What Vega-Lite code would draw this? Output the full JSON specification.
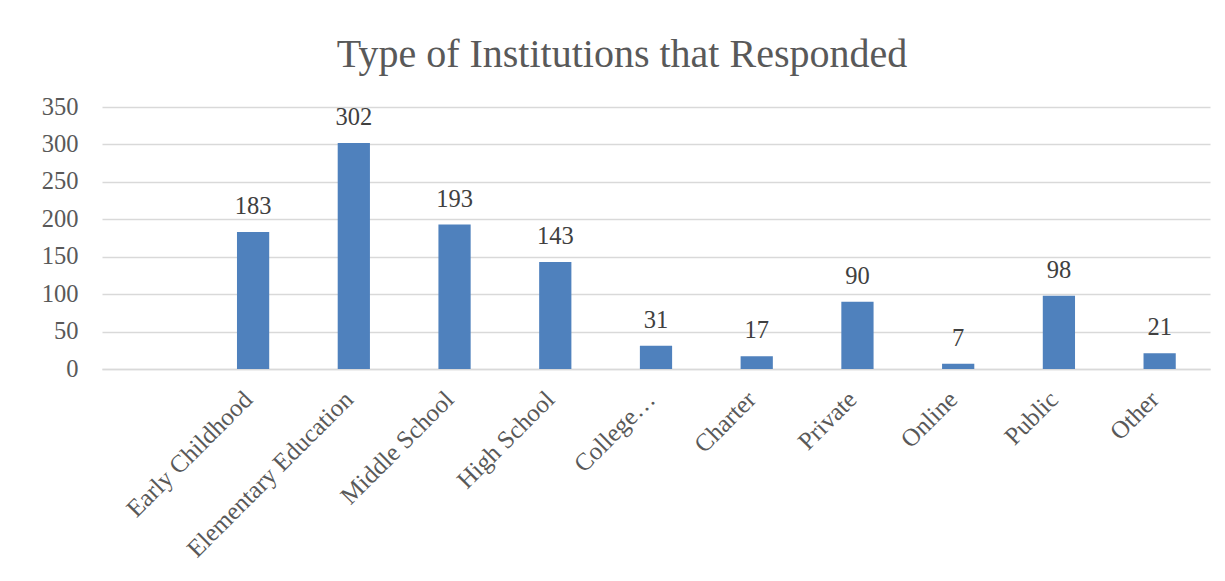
{
  "$schema": "https://vega.github.io/schema/vega-lite/v6.json",
  "autosize": "none",
  "width": 1108,
  "height": 262,
  "padding": {"left": 102, "top": 107, "right": 15, "bottom": 212},
  "background": "white",
  "config": {
    "view": {"stroke": null},
    "font": "Liberation Serif"
  },
  "title": {
    "text": "Type of Institutions that Responded",
    "font": "Liberation Serif",
    "fontSize": 40,
    "fontWeight": "normal",
    "color": "#595959",
    "anchor": "middle",
    "baseline": "alphabetic",
    "offset": 40,
    "dx": -34,
    "dy": 53
  },
  "data": {
    "values": [
      {"type": "Early Childhood", "count": 183},
      {"type": "Elementary Education", "count": 302},
      {"type": "Middle School", "count": 193},
      {"type": "High School", "count": 143},
      {"type": "College…", "count": 31},
      {"type": "Charter", "count": 17},
      {"type": "Private", "count": 90},
      {"type": "Online", "count": 7},
      {"type": "Public", "count": 98},
      {"type": "Other", "count": 21}
    ]
  },
  "encoding": {
    "x": {
      "field": "type",
      "type": "nominal",
      "sort": null,
      "scale": {
        "domain": ["", "Early Childhood", "Elementary Education", "Middle School", "High School", "College…", "Charter", "Private", "Online", "Public", "Other"],
        "paddingInner": 0.68,
        "paddingOuter": 0.34
      },
      "axis": {
        "title": null,
        "labelAngle": -45,
        "labelAlign": "right",
        "labelBaseline": "middle",
        "labelFont": "Liberation Serif",
        "labelFontSize": 25,
        "labelColor": "#595959",
        "labelPadding": 26,
        "labelOffset": -5,
        "labelLimit": 0,
        "labelOverlap": false,
        "ticks": false,
        "domainColor": "#D9D9D9",
        "domainWidth": 1.5,
        "grid": false
      }
    },
    "y": {
      "field": "count",
      "type": "quantitative",
      "scale": {"domain": [0, 350], "nice": false},
      "axis": {
        "title": null,
        "values": [0, 50, 100, 150, 200, 250, 300, 350],
        "labelFont": "Liberation Serif",
        "labelFontSize": 24.5,
        "labelColor": "#595959",
        "labelPadding": 24,
        "ticks": false,
        "domain": false,
        "grid": true,
        "gridColor": "#D9D9D9",
        "gridWidth": 1.5
      }
    }
  },
  "layer": [
    {"mark": {"type": "bar", "color": "#4F81BD"}},
    {
      "mark": {
        "type": "text",
        "baseline": "alphabetic",
        "dy": -18,
        "font": "Liberation Serif",
        "fontSize": 24.5,
        "color": "#404040"
      },
      "encoding": {"text": {"field": "count", "type": "quantitative"}}
    }
  ]
}
